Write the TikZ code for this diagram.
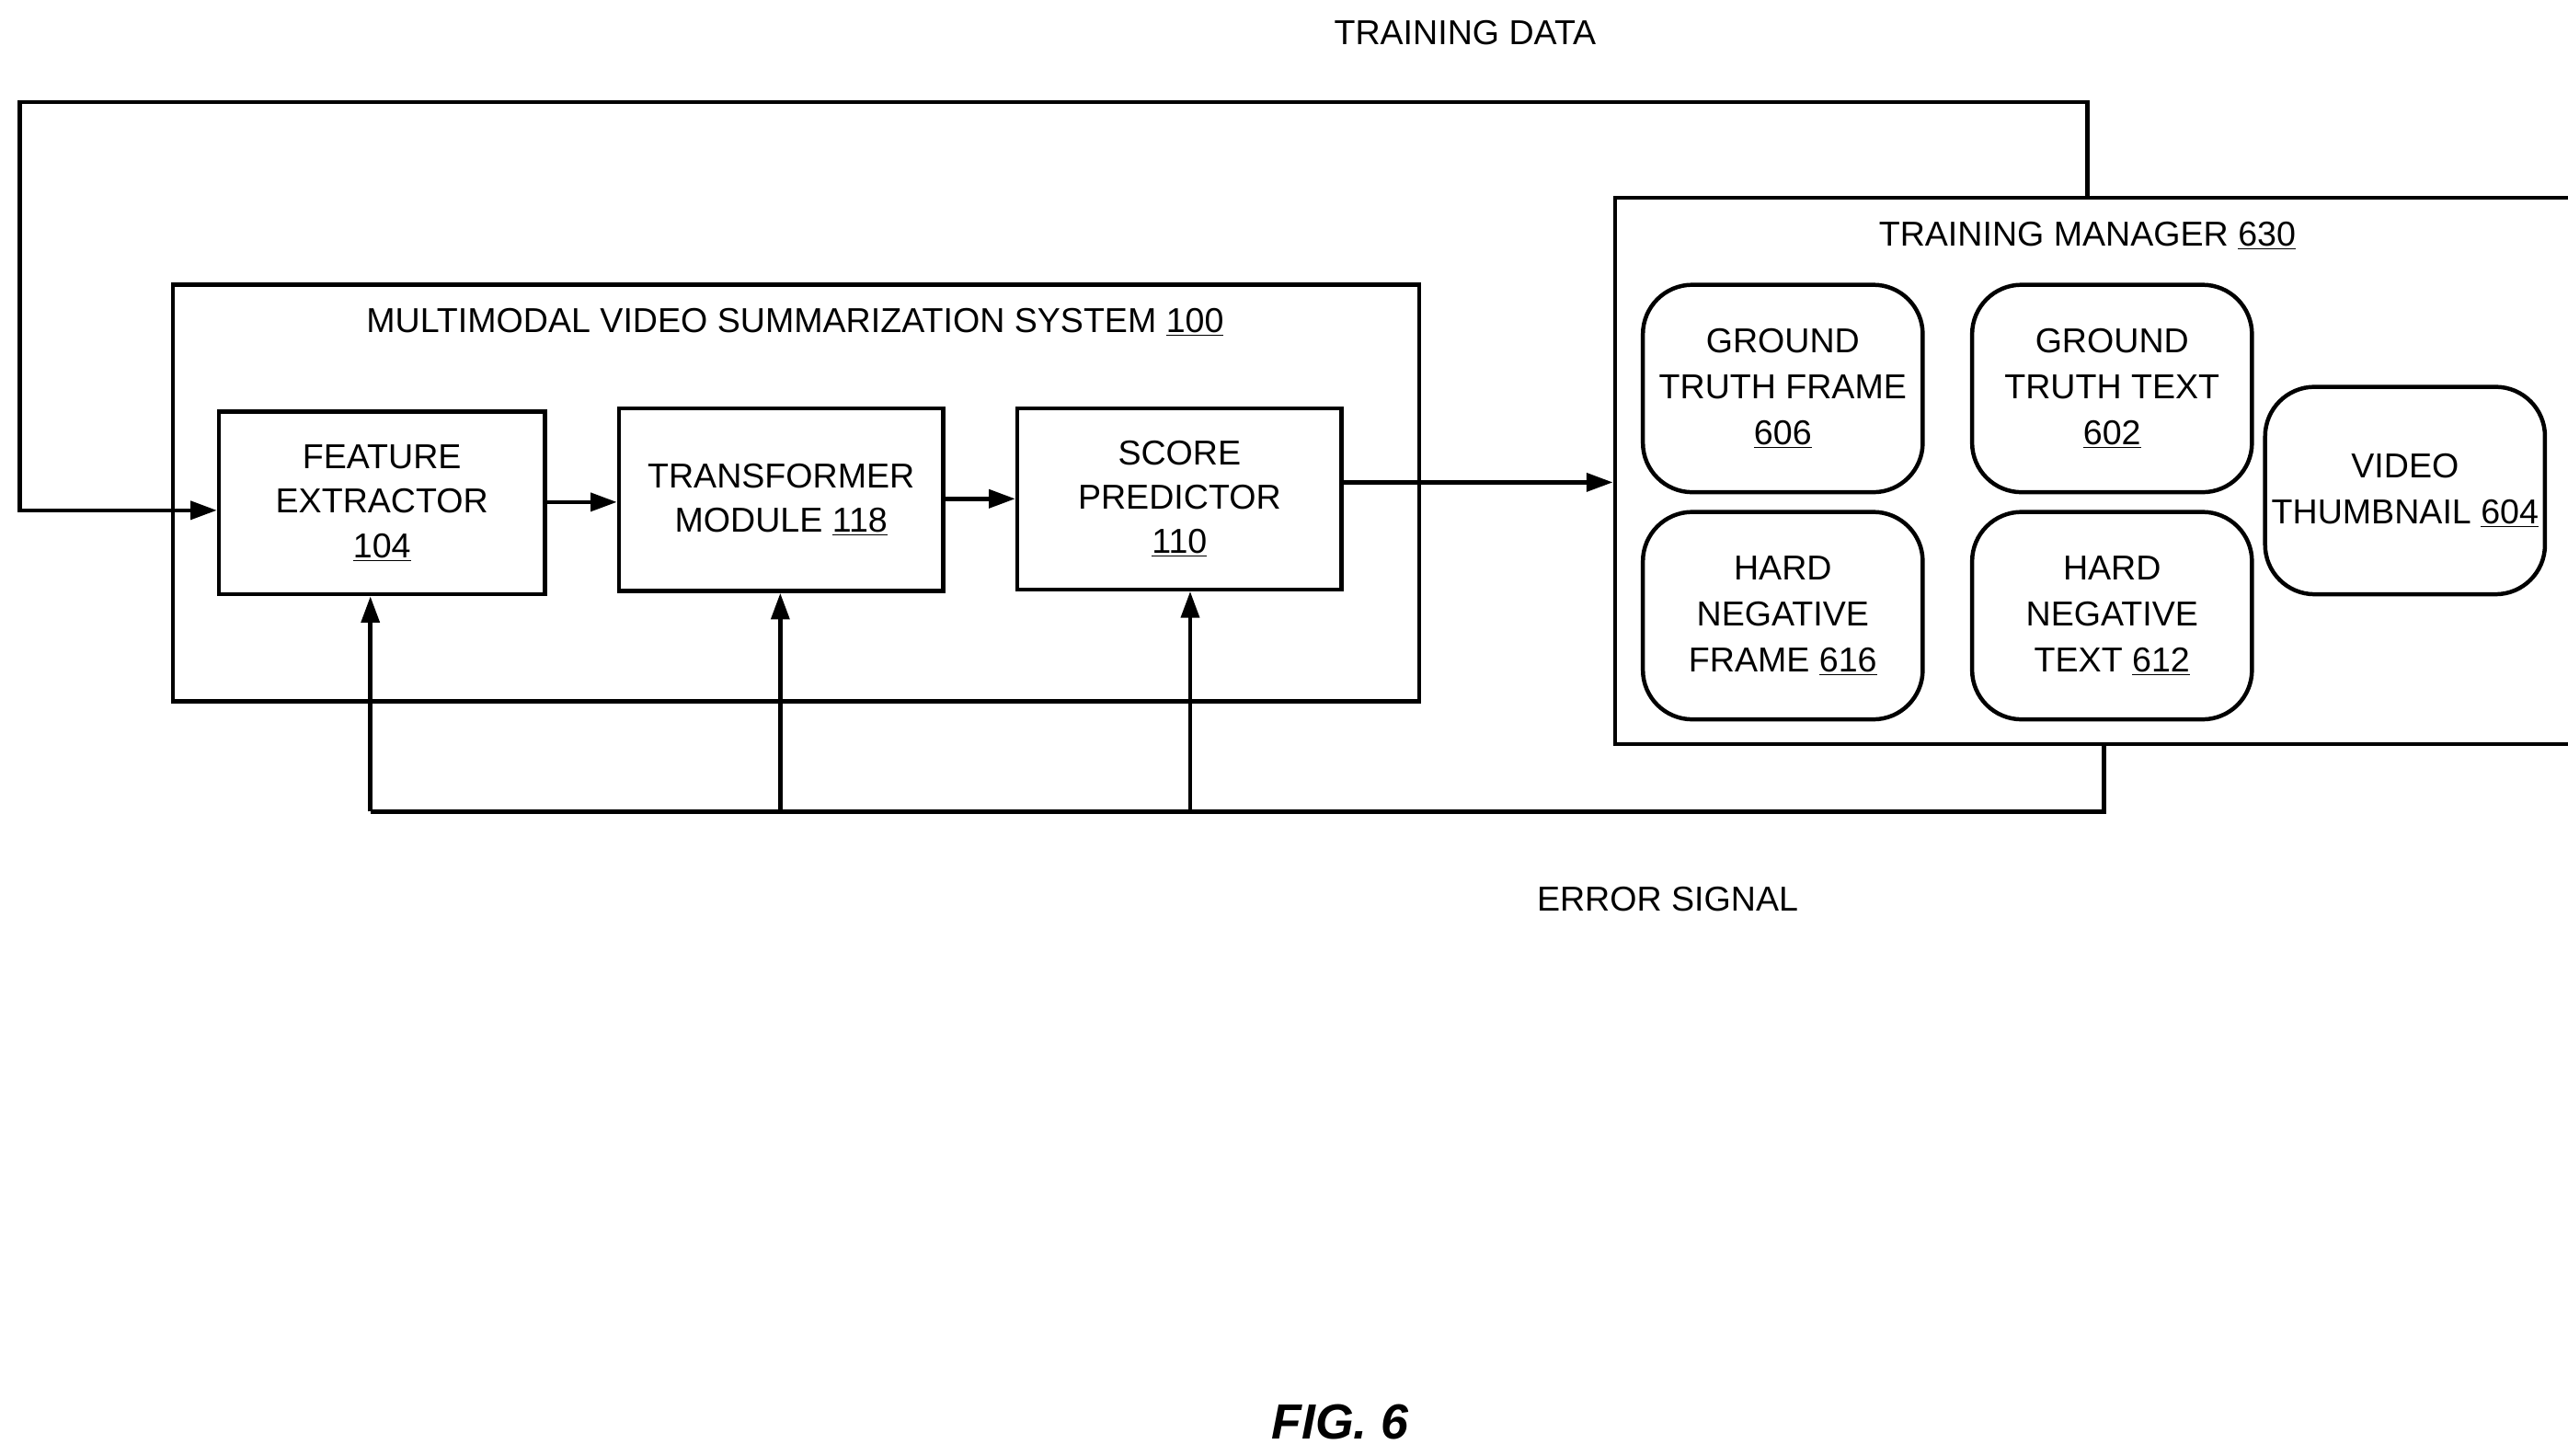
\documentclass[tikz,border=0pt]{standalone}
\usepackage{fontspec}
\setmainfont{Liberation Sans}
\usetikzlibrary{arrows.meta}
\begin{document}
\begin{tikzpicture}[x=1pt,y=-1pt,
  txt/.style={font=\fontsize{21}{27}\selectfont,align=center,inner sep=0},
  box/.style={draw,line width=2.5pt,inner sep=0},
  rbox/.style={draw,line width=2.5pt,rounded corners=30pt,minimum width=170pt,minimum height=126pt,align=center,font=\fontsize{21}{28}\selectfont},
  ln/.style={line width=2.5pt},
  arr/.style={line width=2.5pt,-{Triangle[length=16pt,width=11pt]}}]
\useasboundingbox (0,0) rectangle (1560,884);
\node[box,minimum width=757pt,minimum height=253pt] (sys) at (483.5,299.5) {};
\node[txt] (systitle) at (483,196) {MULTIMODAL VIDEO SUMMARIZATION SYSTEM \underline{100}};
\node[box,minimum width=198pt,minimum height=111pt,txt] (fe) at (232,305.5) {FEATURE\\EXTRACTOR\\\underline{104}};
\node[box,minimum width=197pt,minimum height=111pt,txt] (tm) at (474.5,303.5) {TRANSFORMER\\MODULE \underline{118}};
\node[box,minimum width=197pt,minimum height=110pt,txt] (sp) at (716.5,303) {SCORE\\PREDICTOR\\\underline{110}};
\node[box,minimum width=875pt,minimum height=332pt] (mgr) at (1418.5,286) {};
\node[txt] (mgrtitle) at (1268,143) {TRAINING MANAGER \underline{630}};
\node[rbox] (gtf) at (1083,236) {GROUND\\TRUTH FRAME\\\underline{606}};
\node[rbox] (gtt) at (1283,236) {GROUND\\TRUTH TEXT\\\underline{602}};
\node[rbox] (hnf) at (1083,374) {HARD\\NEGATIVE\\FRAME \underline{616}};
\node[rbox] (hnt) at (1283,374) {HARD\\NEGATIVE\\TEXT \underline{612}};
\node[rbox] (vt) at (1461,298) {VIDEO\\THUMBNAIL \underline{604}};
\node[txt] (td) at (890,20) {TRAINING DATA};
\node[txt] (es) at (1013,546) {ERROR SIGNAL};
\node[txt,font=\fontsize{30}{36}\selectfont\bfseries\itshape] (fig) at (814,864) {FIG. 6};
\coordinate (c1) at (1268,62); \coordinate (c2) at (12,62); \coordinate (c3) at (12,310);
\draw[arr] (mgr.north -| c1) -- (c1) -- (c2) -- (c3) -- (fe.west |- c3);
\draw[arr] (fe.east |- 0,305) -- (tm.west |- 0,305);
\draw[arr] (tm.east |- 0,303) -- (sp.west |- 0,303);
\draw[arr] (sp.east |- 0,293) -- (mgr.west |- 0,293);
\coordinate (e1) at (1278,493); \coordinate (e2) at (225,493);
\coordinate (e3) at (474,493); \coordinate (e4) at (723,493);
\draw[ln] (mgr.south -| e1) -- (e1) -- (e2);
\draw[arr] (e2) -- (fe.south -| e2);
\draw[arr] (e3) -- (tm.south -| e3);
\draw[arr] (e4) -- (sp.south -| e4);
\end{tikzpicture}
\end{document}
